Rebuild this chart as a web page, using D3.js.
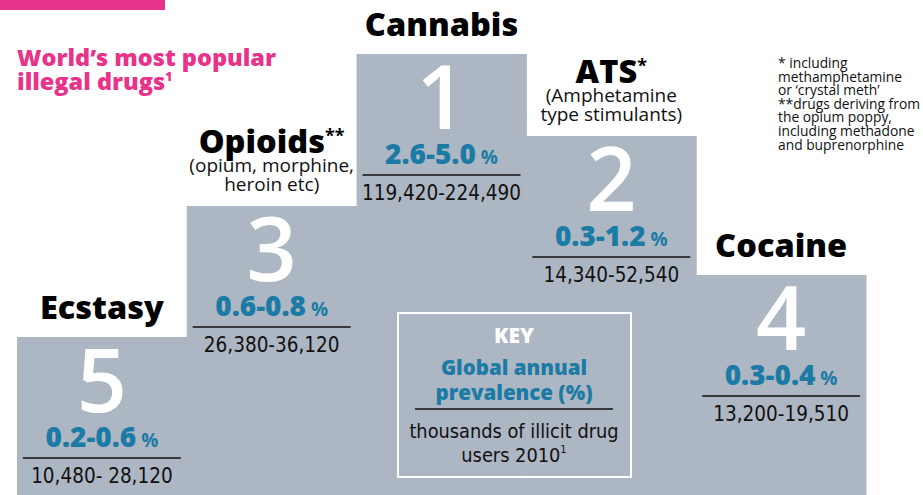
<!DOCTYPE html>
<html>
<head>
<meta charset="utf-8">
<script src="https://cdn.jsdelivr.net/npm/d3@7"></script>
<style>
  body { margin: 0; background: #ffffff; }
  svg { display: block; }
</style>
</head>
<body>
<svg id="chart"></svg>
<script>
// podium, left to right as drawn
const drugs = ["Ecstasy", "Opioids", "Cannabis", "ATS", "Cocaine"]
const ranks = [5, 3, 1, 2, 4]
const marks = ["", "**", "", "*", ""]
const subtitles = [[], ["(opium, morphine,", "heroin etc)"], [], ["(Amphetamine", "type stimulants)"], []]
const prevalence = ["0.2-0.6", "0.6-0.8", "2.6-5.0", "0.3-1.2", "0.3-0.4"]
const users = ["10,480- 28,120", "26,380-36,120", "119,420-224,490", "14,340-52,540", "13,200-19,510"]

const titleLines = ["World\u2019s most popular", "illegal drugs"]
const keyLines = ["Global annual", "prevalence (%)"]
const keyUsers = ["thousands of illicit drug", "users 2010"]
const footnotes = [
  "* including",
  "methamphetamine",
  "or \u2018crystal meth\u2019",
  "**drugs deriving from",
  "the opium poppy,",
  "including methadone",
  "and buprenorphine"
]

const width = 923, height = 495
const pink = "#e8338a", grey = "#adb6c3", blue = "#1b7ba5"
const heavy = "'Open Sans', 'DejaVu Sans', sans-serif"
const narrow = "'DejaVu Sans Condensed', 'DejaVu Sans', sans-serif"

const data = drugs.map((d, i) => ({
  name: d, rank: ranks[i], mark: marks[i], sub: subtitles[i],
  prev: prevalence[i], users: users[i]
}))

const svg = d3.select("#chart").attr("width", width).attr("height", height)

svg.append("rect").attr("width", width).attr("height", height).attr("fill", "#fff")

// x by podium slot, y by rank
const x = d3.scaleBand().domain(drugs).range([17, 866])
const y = d3.scaleLinear().domain([1, 2, 3, 4, 5]).range([54, 136, 206, 275, 337])

// header
svg.append("rect").attr("x", 0).attr("y", 0).attr("width", 165).attr("height", 10).attr("fill", pink)

const title = svg.append("text")
  .attr("font-family", heavy).attr("font-weight", 800).attr("font-size", 23.5)
  .attr("fill", pink)
title.selectAll("tspan").data(titleLines).join("tspan")
  .attr("x", 17).attr("y", (d, i) => 66 + i * 24)
  .text(d => d)
title.append("tspan").attr("font-size", 12).attr("dy", -9).text("1")

// podium blocks
const blocks = svg.append("g").attr("id", "podium")
blocks.selectAll("rect").data(data).join("rect")
  .attr("x", d => x(d.name))
  .attr("y", d => y(d.rank))
  .attr("width", x.bandwidth() + 0.5)
  .attr("height", d => height - y(d.rank))
  .attr("fill", grey)

const cell = svg.append("g").attr("id", "labels")
  .selectAll("g").data(data).join("g")
  .attr("transform", d => `translate(${x(d.name) + x.bandwidth() / 2},${y(d.rank)})`)

// name + subtitle above each block
cell.each(function (d) {
  const g = d3.select(this)
  const n = d.sub.length
  const nameY = n ? -15 - (n - 1) * 19.5 - 19 : -18
  const name = g.append("text")
    .attr("y", nameY).attr("text-anchor", "middle")
    .attr("font-family", heavy).attr("font-weight", 800).attr("font-size", 32.5)
    .attr("fill", "#000")
  name.append("tspan").text(d.name)
  if (d.mark) name.append("tspan").attr("font-size", 18).attr("font-weight", 700).attr("dy", -11).text(d.mark)
  g.selectAll("text.sub").data(d.sub).join("text").attr("class", "sub")
    .attr("y", (s, i) => -15 - (n - 1 - i) * 19.5)
    .attr("text-anchor", "middle")
    .attr("font-family", heavy).attr("font-size", 19).attr("fill", "#111")
    .text(s => s)
})

cell.append("text")
  .attr("y", 75).attr("text-anchor", "middle")
  .attr("font-family", heavy).attr("font-weight", 600).attr("font-size", 88).attr("fill", "#fff")
  .text(d => d.rank)

const pct = cell.append("text")
  .attr("y", 110).attr("text-anchor", "middle")
  .attr("font-family", heavy).attr("font-weight", 800).attr("font-size", 28)
  .attr("fill", blue)
pct.append("tspan").text(d => d.prev)
pct.append("tspan").attr("font-size", 19).attr("font-weight", 700).text(" %")

cell.append("line")
  .attr("x1", -79).attr("x2", 79).attr("y1", 121).attr("y2", 121)
  .attr("stroke", "#111").attr("stroke-width", 1.6)

cell.append("text")
  .attr("y", 146).attr("text-anchor", "middle")
  .attr("font-family", narrow).attr("font-size", 20.5).attr("fill", "#111")
  .text(d => d.users)

// key box
const key = svg.append("g").attr("id", "key").attr("transform", "translate(398,313)")
key.append("rect").attr("width", 233).attr("height", 164)
  .attr("fill", "none").attr("stroke", "#fff").attr("stroke-width", 2)
key.append("text").attr("x", 116).attr("y", 30).attr("text-anchor", "middle")
  .attr("font-family", heavy).attr("font-weight", 800).attr("font-size", 21)
  .attr("fill", "#fff").text("KEY")
key.selectAll("text.k").data(keyLines).join("text").attr("class", "k")
  .attr("x", 116).attr("y", (d, i) => 62 + i * 25).attr("text-anchor", "middle")
  .attr("font-family", heavy).attr("font-weight", 800).attr("font-size", 20.5)
  .attr("fill", blue).text(d => d)
key.append("line").attr("x1", 17).attr("x2", 215).attr("y1", 96).attr("y2", 96)
  .attr("stroke", "#111").attr("stroke-width", 1.6)
const ku = key.selectAll("text.u").data(keyUsers).join("text").attr("class", "u")
  .attr("x", 116).attr("y", (d, i) => 125 + i * 24).attr("text-anchor", "middle")
  .attr("font-family", narrow).attr("font-size", 19.8).attr("fill", "#111")
  .text(d => d)
ku.filter((d, i) => i === 1).append("tspan").attr("font-size", 11).attr("dy", -9).text("1")

// footnotes
svg.append("g").attr("id", "notes")
  .selectAll("text").data(footnotes).join("text")
  .attr("x", 778).attr("y", (d, i) => 68 + i * 13.6)
  .attr("font-family", heavy).attr("font-size", 13.8).attr("fill", "#111")
  .text(d => d)
</script>
</body>
</html>
